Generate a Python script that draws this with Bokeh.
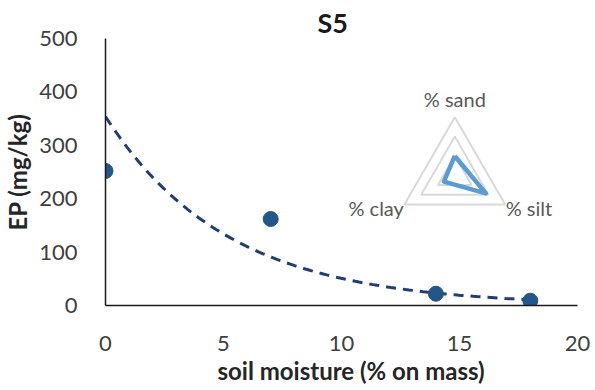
import numpy as np
from bokeh.plotting import figure
from bokeh.models import Range1d, Label, Title, FixedTicker
from bokeh.embed import file_html
from bokeh.resources import INLINE

# ---- data ----
moisture = [0, 7, 14, 18]
ep = [252, 162, 22, 9]
x_ticks = [0, 5, 10, 15, 20]
y_ticks = [0, 100, 200, 300, 400, 500]

radar_axes = ["% sand", "% silt", "% clay"]
radar_values = [20, 37, 13]
radar_grid = [20, 40, 60]

FONT = "Lato"

p = figure(width=595, height=390, output_backend="svg", toolbar_location=None,
           x_range=Range1d(0, 20), y_range=Range1d(0, 500),
           min_border_left=105, min_border_right=18, min_border_top=38, min_border_bottom=85)
p.outline_line_color = None
p.xgrid.grid_line_color = None
p.ygrid.grid_line_color = None
p.background_fill_color = "white"
p.border_fill_color = "white"

p.title.text = "S5"
p.title.text_font = FONT
p.title.text_font_style = "bold"
p.title.text_font_size = "27px"
p.title.text_color = "#1a1a1a"
p.title.align = "left"
p.title.offset = 212
p.title.standoff = 0
p.title.text_line_height = 0.8

for ax in (p.xaxis[0], p.yaxis[0]):
    ax.axis_line_color = "#1a1a1a"
    ax.axis_line_width = 1.5
    ax.major_tick_line_color = None
    ax.minor_tick_line_color = None
    ax.major_label_text_font = FONT
    ax.major_label_text_font_size = "22px"
    ax.major_label_text_color = "#404040"
p.xaxis[0].ticker = FixedTicker(ticks=x_ticks)
p.yaxis[0].ticker = FixedTicker(ticks=y_ticks)
p.xaxis[0].major_label_standoff = 24
p.yaxis[0].major_label_standoff = 22
p.yaxis[0].axis_label = "EP (mg/kg)"
p.yaxis[0].axis_label_text_font = FONT
p.yaxis[0].axis_label_text_font_style = "bold"
p.yaxis[0].axis_label_text_font_size = "24px"
p.yaxis[0].axis_label_text_color = "#262626"
p.yaxis[0].axis_label_standoff = 4

xt = Title(text="soil moisture (% on mass)", text_font=FONT, text_font_style="bold",
           text_font_size="24px", text_color="#262626", align="left", offset=112,
           standoff=0)
p.add_layout(xt, "below")

# exponential trendline (least squares on log, as a spreadsheet trendline)
b, ln_a = np.polyfit(np.array(moisture, float), np.log(np.array(ep, float)), 1)
tx = np.linspace(min(moisture), max(moisture), 120)
ty = np.exp(ln_a) * np.exp(b * tx)
p.line(tx, ty, line_color="#1f3d78", line_width=3, line_dash="10 7")

p.scatter(moisture, ep, size=15, fill_color="#235789", line_color="#235789")

# ---- radar inset on its own equal-scale ranges ----
p.extra_x_ranges = {"rx": Range1d(-360.1, 126.5)}
p.extra_y_ranges = {"ry": Range1d(-134.1, 141.1)}
angles = np.deg2rad([90, -30, 210])
for g in radar_grid:
    gx = list(g * np.cos(angles)) + [g * np.cos(angles[0])]
    gy = list(g * np.sin(angles)) + [g * np.sin(angles[0])]
    p.line(gx, gy, x_range_name="rx", y_range_name="ry", line_color="#d9d9d9", line_width=2)
vals = np.array(radar_values, float)
vx = list(vals * np.cos(angles)) + [vals[0] * np.cos(angles[0])]
vy = list(vals * np.sin(angles)) + [vals[0] * np.sin(angles[0])]
p.line(vx, vy, x_range_name="rx", y_range_name="ry", line_color="#5b9bd5", line_width=4.5,
       line_join="round")

lab_pos = [(0, 79, "center"), (52.5, -34, "left"), (-52.5, -34, "right")]
for (lx, ly, al), t in zip(lab_pos, radar_axes):
    p.add_layout(Label(x=lx, y=ly, x_range_name="rx", y_range_name="ry", text=t,
                       text_font=FONT, text_font_size="20px", text_color="#595959",
                       text_align=al, text_baseline="middle"))

open("out.html", "w").write(file_html(p, INLINE))
